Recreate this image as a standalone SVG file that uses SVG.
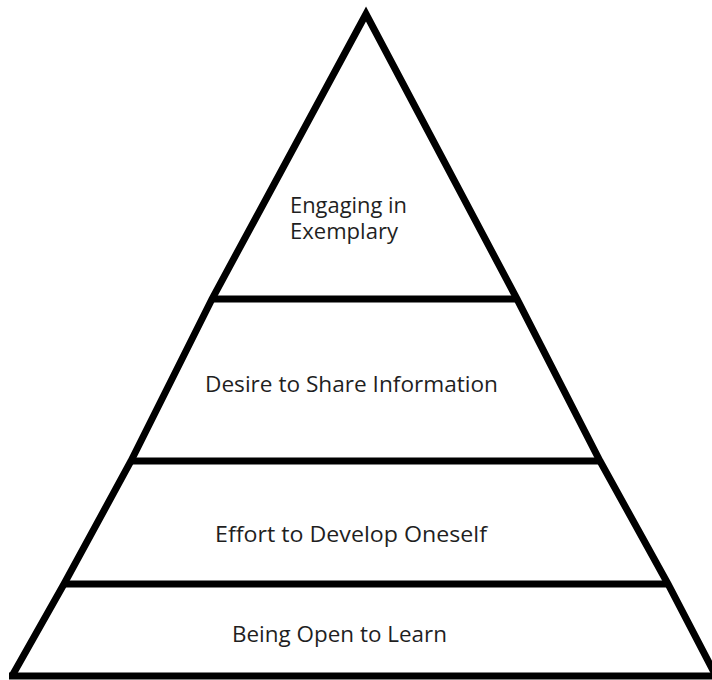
<svg xmlns="http://www.w3.org/2000/svg" width="712" height="680" viewBox="0 0 712 680">
<style>
.ln{stroke:#000;stroke-width:7;fill:none;stroke-linejoin:miter}
.t{font-family:"Open Sans","Liberation Sans",sans-serif;font-size:21px;fill:#1f1f1f}
</style>
<rect width="712" height="680" fill="#fff"/>
<g id="pyramid">
<polyline class="ln" points="12,676 64,584 131,461 212,299 366,14 517,299 600,461 668,584 716,676"/>
<line class="ln" x1="9" y1="676" x2="716" y2="676"/>
<line class="ln" x1="212" y1="299" x2="517" y2="299"/>
<line class="ln" x1="131" y1="461" x2="600" y2="461"/>
<line class="ln" x1="64" y1="584" x2="668" y2="584"/>
</g>
<g id="tier4"><text class="t" x="290" y="213" textLength="117" lengthAdjust="spacingAndGlyphs">Engaging in</text><text class="t" x="290" y="239" textLength="108" lengthAdjust="spacingAndGlyphs">Exemplary</text></g>
<g id="tier3"><text class="t" x="205" y="392" textLength="293" lengthAdjust="spacingAndGlyphs">Desire to Share Information</text></g>
<g id="tier2"><text class="t" x="215" y="542" textLength="272" lengthAdjust="spacingAndGlyphs">Effort to Develop Oneself</text></g>
<g id="tier1"><text class="t" x="232" y="642" textLength="215" lengthAdjust="spacingAndGlyphs">Being Open to Learn</text></g>
</svg>
